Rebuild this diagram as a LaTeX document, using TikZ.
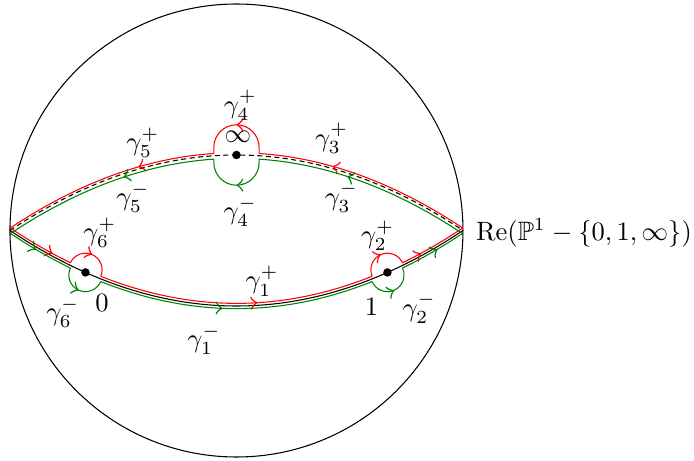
\documentclass[tikz,border=0pt]{standalone}
\usepackage{amssymb}
\usetikzlibrary{decorations.markings}
\tikzset{
  midarr/.style={postaction={decorate,decoration={markings,mark=at position #1 with {\arrow[scale=1.4]{>}}}}},
  lbl/.style={inner sep=0pt},
  redpath/.style={red},
  greenpath/.style={green!50!black},
  dot/.style={circle,fill=black,inner sep=0pt,minimum size=3.2pt}
}
\def\dr{0.035}
\def\dg{0.035}
\def\ur{0.03}
\def\ug{0.045}
\begin{document}
\begin{tikzpicture}
\useasboundingbox (-3.132,-3.053) rectangle (6.06,3.053);
% outer circle
\node[circle,draw,minimum size=6cm,inner sep=0pt] (sphere) at (0,0) {};
% base curves
\draw plot[domain=-3:3,samples=80] (\x,{-1+\x*\x/9});
\draw[dash pattern=on 1.9pt off 1.3pt] plot[domain=-3:3,samples=80] (\x,{1-\x*\x/9});
% points
\node[dot] (p0) at (-2,{-5/9}) {};
\node[dot] (p1) at (2,{-5/9}) {};
\node[dot] (pinf) at (0,1) {};
% red (gamma^+)
\draw[redpath,midarr=0.71] plot[domain=-3:-2.199,samples=20] (\x,{-1+\x*\x/9+\dr});
\draw[redpath,midarr=0.5] (-2,{-5/9+\dr}) ++(155:0.22) arc[start angle=155,end angle=-23,radius=0.22];
\draw[redpath,midarr=0.575] plot[domain=-1.797:1.797,samples=60] (\x,{-1+\x*\x/9+\dr});
\draw[redpath,midarr=0.5] (2,{-5/9+\dr}) ++(203:0.22) arc[start angle=203,end angle=25,radius=0.22];
\draw[redpath,midarr=0.3] plot[domain=2.199:3,samples=20] (\x,{-1+\x*\x/9+\dr});
\draw[redpath,midarr=0.66] plot[domain=0:2.7,samples=50] ({3-\x},{1-(3-\x)*(3-\x)/9+\ur});
\draw[redpath,midarr=0.5] (0.3,{0.99+\ur}) -- (0.3,1.1) arc[start angle=0,end angle=180,radius=0.3] -- (-0.3,{0.99+\ur});
\draw[redpath,midarr=0.35] plot[domain=0:2.7,samples=50] ({-0.3-\x},{1-(0.3+\x)*(0.3+\x)/9+\ur});
% green (gamma^-)
\draw[greenpath,midarr=0.44] plot[domain=-3:-2.199,samples=20] (\x,{-1+\x*\x/9-\dg});
\draw[greenpath,midarr=0.5] (-2,{-5/9-\dg}) ++(155:0.22) arc[start angle=155,end angle=337,radius=0.22];
\draw[greenpath,midarr=0.45] plot[domain=-1.797:1.797,samples=60] (\x,{-1+\x*\x/9-\dg});
\draw[greenpath,midarr=0.5] (2,{-5/9-\dg}) ++(203:0.22) arc[start angle=203,end angle=385,radius=0.22];
\draw[greenpath,midarr=0.57] plot[domain=2.199:3,samples=20] (\x,{-1+\x*\x/9-\dg});
\draw[greenpath,midarr=0.59] plot[domain=0:2.7,samples=50] ({3-\x},{1-(3-\x)*(3-\x)/9-\ug});
\draw[greenpath,midarr=0.5] (0.3,{0.99-\ug}) -- (0.3,0.9) arc[start angle=0,end angle=-180,radius=0.3] -- (-0.3,{0.99-\ug});
\draw[greenpath,midarr=0.42] plot[domain=0:2.7,samples=50] ({-0.3-\x},{1-(0.3+\x)*(0.3+\x)/9-\ug});
% labels
\node[lbl] (g4p) at (0.05,1.66) {$\gamma_4^+$};
\node[lbl] (linf) at (0.02,1.24) {$\infty$};
\node[lbl] (g3p) at (1.26,1.22) {$\gamma_3^+$};
\node[lbl] (g3m) at (1.39,0.44) {$\gamma_3^-$};
\node[lbl] (g4m) at (0.05,0.25) {$\gamma_4^-$};
\node[lbl] (g5p) at (-1.24,1.16) {$\gamma_5^+$};
\node[lbl] (g5m) at (-1.37,0.43) {$\gamma_5^-$};
\node[lbl] (g6p) at (-1.81,-0.03) {$\gamma_6^+$};
\node[lbl] (g6m) at (-2.30,-1.09) {$\gamma_6^-$};
\node[lbl] (l0) at (-1.78,-0.96) {$0$};
\node[lbl] (g1p) at (0.34,-0.67) {$\gamma_1^+$};
\node[lbl] (g1m) at (-0.43,-1.45) {$\gamma_1^-$};
\node[lbl] (g2p) at (1.87,-0.07) {$\gamma_2^+$};
\node[lbl] (l1) at (1.79,-1.01) {$1$};
\node[lbl] (g2m) at (2.42,-1.03) {$\gamma_2^-$};
\node[anchor=west] (re) at (3.05,-0.03) {$\mathrm{Re}(\mathbb{P}^1-\{0,1,\infty\})$};
\end{tikzpicture}
\end{document}
